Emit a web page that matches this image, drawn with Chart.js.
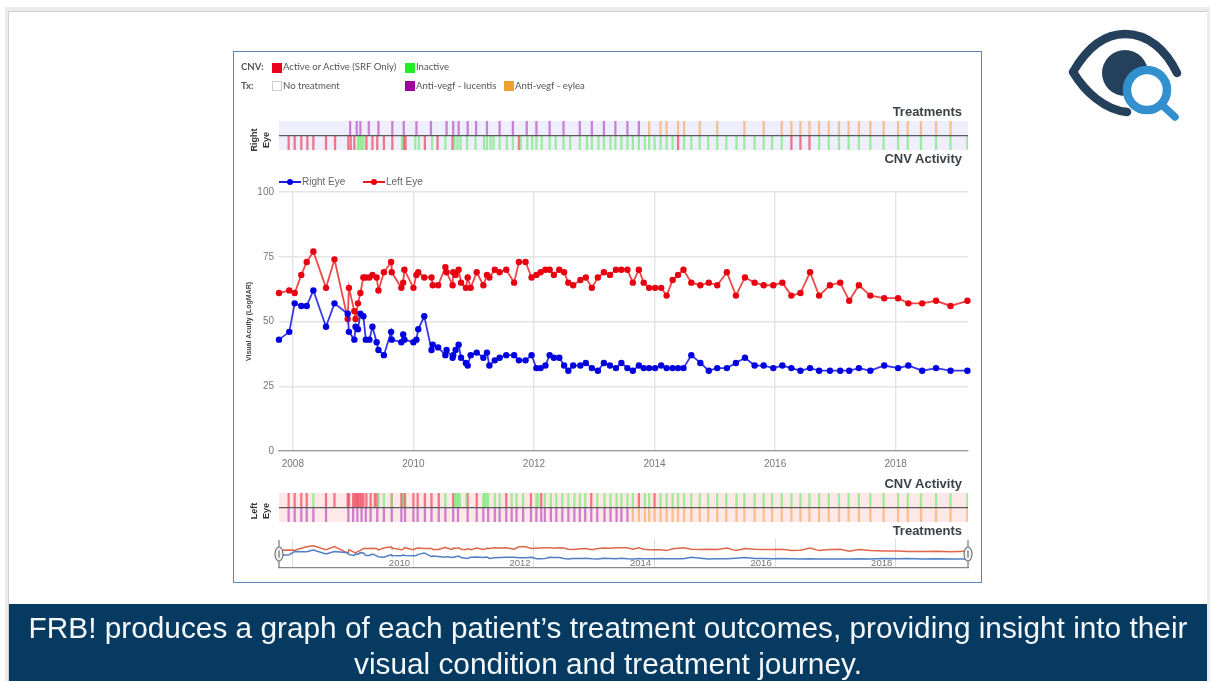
<!DOCTYPE html>
<html><head><meta charset="utf-8">
<script src="https://cdn.jsdelivr.net/npm/chart.js@4"></script>
<style>
html,body{margin:0;padding:0;background:#fff;width:1210px;height:681px;overflow:hidden}
#outer{position:absolute;left:5px;top:7px;width:1205px;height:674px;background:#ececec}
#slide{position:absolute;left:8px;top:11px;width:1199px;height:670px;background:#fff;border-top:1px solid #cfcfcf;border-left:1px solid #cfcfcf;box-sizing:border-box}
#banner{position:absolute;left:9px;top:604px;width:1198px;height:77px;background:#063a60;color:#f4f8fb;font:29.8px/36px "Liberation Sans",Arial,sans-serif;text-align:center;padding-top:6px;box-sizing:border-box}
#bannerText{filter:blur(.4px)}
#frame{position:absolute;left:233px;top:51px;width:749px;height:532px;border:1px solid #5f86ba;box-sizing:border-box;filter:blur(.45px)}
.a{position:absolute;white-space:nowrap}
canvas{position:absolute;display:block}
.leg{font:9.6px Lato,sans-serif;color:#555;line-height:12px}
.sw{position:absolute;width:10px;height:10px;box-sizing:border-box}
.hd{font:bold 13px "Liberation Sans",Arial,sans-serif;color:#3a4248;right:19px;line-height:14px}
.eye{font:bold 9px "Liberation Sans",Arial,sans-serif;color:#333;transform:rotate(-90deg);transform-origin:center;width:30px;text-align:center;line-height:12px}
.lg{font:10px "Liberation Sans",Arial,sans-serif;color:#666;line-height:12px}
#eyeicon{position:absolute;left:1060px;top:20px;filter:blur(.5px)}
</style></head><body>
<div id="outer"></div>
<div id="slide"></div>
<svg id="eyeicon" width="130" height="110" viewBox="1060 20 130 110">
<path d="M1127 112 C1105 110 1085 92 1073 72 C1088 46 1106 34 1125 34 C1148 34 1166 50 1177 73" fill="none" stroke="#24405a" stroke-width="8.5" stroke-linecap="round" stroke-linejoin="round"/>
<circle cx="1125" cy="73" r="23" fill="#24405a"/>
<circle cx="1147" cy="90" r="20" fill="#fff" stroke="#3390cf" stroke-width="8.5"/>
<line x1="1161" y1="104" x2="1175" y2="117" stroke="#3390cf" stroke-width="7.5" stroke-linecap="round"/>
</svg>
<div id="frame">
  <div class="a leg" style="left:7px;top:9px;font-weight:700">CNV:</div>
  <div class="a leg" style="left:7px;top:28px;font-weight:700">Tx:</div>
  <div class="sw" style="left:38px;top:11px;background:#e8001c"></div>
  <div class="a leg" style="left:49px;top:9px">Active or Active (SRF Only)</div>
  <div class="sw" style="left:171px;top:11px;background:#22ee22"></div>
  <div class="a leg" style="left:182px;top:9px">Inactive</div>
  <div class="sw" style="left:38px;top:29px;background:#fff;border:1px solid #ccc"></div>
  <div class="a leg" style="left:49px;top:28px">No treatment</div>
  <div class="sw" style="left:171px;top:29px;background:#a000a0"></div>
  <div class="a leg" style="left:182px;top:28px">Anti-vegf - lucentis</div>
  <div class="sw" style="left:270px;top:29px;background:#f0a030"></div>
  <div class="a leg" style="left:281px;top:28px">Anti-vegf - eylea</div>

  <div class="a hd" style="top:53px">Treatments</div>
  <div class="a hd" style="top:100px">CNV Activity</div>
  <div class="a hd" style="top:425px">CNV Activity</div>
  <div class="a hd" style="top:472px">Treatments</div>

  <div class="a eye" style="left:11px;top:76px">Right<br>Eye</div>
  <div class="a eye" style="left:11px;top:447px">Left<br>Eye</div>

  <svg class="a" style="left:45px;top:124px" width="24" height="12"><line x1="0" y1="6" x2="22" y2="6" stroke="#1a1ae0" stroke-width="2"/><circle cx="11" cy="6" r="3" fill="#0000e0"/></svg>
  <div class="a lg" style="left:68px;top:124px">Right Eye</div>
  <svg class="a" style="left:129px;top:124px" width="24" height="12"><line x1="0" y1="6" x2="22" y2="6" stroke="#ee1a1a" stroke-width="2"/><circle cx="11" cy="6" r="3" fill="#e80000"/></svg>
  <div class="a lg" style="left:152px;top:124px">Left Eye</div>

  <canvas id="topStrip" style="left:45px;top:69px"></canvas>
  <canvas id="main" style="left:0;top:120px"></canvas>
  <canvas id="botStrip" style="left:45px;top:441px"></canvas>
  <canvas id="nav" style="left:30px;top:480px"></canvas>
</div>
<div id="banner"><div id="bannerText">FRB! produces a graph of each patient’s treatment outcomes, providing insight into their<br>visual condition and treatment journey.</div></div>
<script>
const xMin=2007.77, xMax=2019.2;
const visitYears=[2007.77,2007.94,2008.03,2008.14,2008.23,2008.34,2008.55,2008.69,2008.91,2008.93,2009.02,2009.04,2009.08,2009.12,2009.17,2009.21,2009.27,2009.32,2009.39,2009.42,2009.51,2009.63,2009.64,2009.80,2009.83,2009.85,2010.00,2010.05,2010.08,2010.18,2010.30,2010.32,2010.41,2010.53,2010.55,2010.65,2010.66,2010.70,2010.75,2010.79,2010.87,2010.90,2010.95,2011.05,2011.16,2011.22,2011.26,2011.35,2011.43,2011.54,2011.67,2011.75,2011.86,2011.96,
2012.04,2012.11,2012.19,2012.26,2012.33,2012.42,2012.50,2012.57,2012.65,2012.77,2012.86,2012.96,2013.06,2013.16,2013.26,2013.36,2013.45,2013.55,2013.64,2013.74,2013.82,2013.91,2014.01,2014.11,2014.20,2014.30,2014.39,2014.48,2014.61,2014.76,2014.90,2015.04,2015.20,2015.35,2015.50,2015.66,2015.81,
2015.97,2016.12,2016.27,2016.42,2016.58,2016.73,2016.91,2017.08,2017.23,2017.39,2017.58,2017.81,2018.04,2018.21,2018.44,2018.67,2018.91,2019.19];
const rightEyeVA=[43,46,57,56,56,62,48,57,53,46,43,48,47,53,52,43,43,48,42,39,37,46,43,42,45,43,42,43,47,52,39,41,40,37,39,36,37,39,41,36,34,33,37,38,36,38,33,35,36,37,37,35,35,37,
32,32,33,37,36,36,33,31,33,33,34,32,31,34,33,32,34,32,31,33,32,32,32,33,32,32,32,32,37,34,31,32,32,34,36,33,33,
32,33,32,31,32,31,31,31,31,32,31,33,32,33,31,32,31,31];
const leftEyeVA=[61,62,61,68,73,77,63,74,51,63,54,51,57,61,67,67,67,68,67,62,69,73,69,63,65,70,63,68,69,67,67,64,64,71,69,64,69,68,70,65,63,67,63,69,64,68,67,70,69,70,65,73,73,67,
68,69,70,70,68,70,69,65,64,66,67,63,67,69,68,70,70,70,65,70,65,63,63,63,60,66,68,70,65,64,65,64,69,60,67,65,64,
64,65,60,61,69,60,64,65,58,64,60,59,59,57,57,58,56,58];

const rightLucentis=[2008.95,2009.06,2009.12,2009.26,2009.42,2009.65,2009.84,2010.05,2010.29,2010.55,2010.66,2010.75,2010.90,2011.04,2011.22,2011.43,2011.65,2011.88,2012.04,2012.26,2012.49,2012.76,2012.96,2013.16,2013.35,2013.55,2013.74];
const rightEylea=[2013.91,2014.10,2014.20,2014.39,2014.49,2014.75,2015.04,2015.49,2015.81,2016.11,2016.27,2016.42,2016.57,2016.73,2016.89,2017.06,2017.22,2017.39,2017.58,2017.80,2018.04,2018.20,2018.42,2018.67,2018.91];
const rightActive=[2007.93,2008.03,2008.14,2008.24,2008.34,2008.55,2008.70,2008.92,2008.96,2009.02,2009.22,2009.32,2009.40,2009.51,2009.65,2009.84,2009.87,2010.19,2010.40,2010.65,2011.75,2014.39,2016.27,2016.42,2016.57];
const rightInactive=[2009.08,2009.11,2009.14,2009.17,2009.81,2010.03,2010.09,2010.31,2010.53,2010.68,2010.73,2010.78,2010.89,2011.03,2011.17,2011.22,2011.28,2011.33,2011.43,2011.55,2011.65,2011.78,2011.89,2011.97,2012.04,2012.13,2012.26,2012.36,2012.49,2012.60,2012.76,2012.88,2012.96,2013.07,2013.16,2013.27,2013.35,2013.45,2013.55,2013.64,2013.74,2013.84,2013.91,2014.00,2014.10,2014.20,2014.30,2014.49,2014.61,2014.75,2014.89,2015.04,2015.19,2015.36,2015.49,2015.66,2015.81,2015.95,2016.11,2016.73,2016.89,2017.06,2017.22,2017.39,2017.58,2017.80,2018.04,2018.20,2018.42,2018.67,2018.91,2019.19];

const leftActive=[2007.93,2008.03,2008.14,2008.23,2008.55,2008.69,2008.91,2008.93,2009.00,2009.03,2009.06,2009.08,2009.11,2009.14,2009.17,2009.22,2009.29,2009.36,2009.40,2009.64,2009.80,2009.83,2009.86,2010.00,2010.07,2010.19,2010.30,2010.42,2010.66,2010.90,2011.05,2011.54,2011.95,2012.12,2012.95,2013.74,2014.00];
const leftInactive=[2008.34,2009.42,2009.51,2009.64,2009.83,2010.53,2010.69,2010.71,2010.74,2010.77,2010.88,2011.16,2011.18,2011.21,2011.24,2011.35,2011.43,2011.63,2011.71,2011.82,2012.04,2012.07,2012.18,2012.28,2012.37,2012.47,2012.57,2012.67,2012.76,2012.85,2013.05,2013.17,2013.27,2013.37,2013.45,2013.55,2013.64,2013.84,2013.91,2014.10,2014.20,2014.30,2014.39,2014.49,2014.61,2014.75,2014.89,2015.04,2015.19,2015.36,2015.49,2015.66,2015.81,2015.95,2016.11,2016.27,2016.42,2016.57,2016.73,2016.89,2017.06,2017.22,2017.39,2017.58,2017.80,2018.04,2018.20,2018.42,2018.67,2018.91,2019.19];
const leftLucentis=[2007.93,2008.03,2008.14,2008.23,2008.34,2008.55,2008.92,2009.00,2009.07,2009.14,2009.21,2009.29,2009.40,2009.51,2009.64,2009.80,2009.86,2010.00,2010.07,2010.19,2010.30,2010.42,2010.53,2010.66,2010.74,2010.90,2011.05,2011.16,2011.24,2011.35,2011.43,2011.54,2011.63,2011.71,2011.82,2011.95,2012.04,2012.12,2012.18,2012.28,2012.37,2012.47,2012.57,2012.67,2012.76,2012.85,2012.95,2013.05,2013.17,2013.27,2013.37,2013.45,2013.55];
const leftEylea=[2013.64,2013.74,2013.84,2013.91,2014.00,2014.10,2014.20,2014.30,2014.39,2014.49,2014.61,2014.75,2014.89,2015.04,2015.19,2015.36,2015.49,2015.66,2015.81,2015.95,2016.11,2016.27,2016.42,2016.57,2016.73,2016.89,2017.06,2017.22,2017.39,2017.58,2017.80,2018.04,2018.20,2018.42,2018.67,2018.91,2019.19];

const COL={lucentis:'rgba(176,60,190,.62)',eylea:'rgba(246,176,110,.75)',active:'rgba(235,70,90,.72)',inactive:'rgba(120,235,120,.72)'};
Chart.defaults.animation=false;
Chart.defaults.responsive=false;

const bandBg={id:'bandBg',beforeDraw(c,_,o){const a=c.chartArea;c.ctx.save();c.ctx.fillStyle=o.color;c.ctx.fillRect(a.left,a.top,a.width,a.height);c.ctx.restore();}};
function ticks(arr,lo,hi,color){return {data:arr.map(x=>({x,y:[lo,hi]})),backgroundColor:color,barThickness:1.6,grouped:false};}
function strip(id,height,sets,bg){
  const el=document.getElementById(id);el.width=689;el.height=height;
  new Chart(el,{type:'bar',plugins:[bandBg],data:{datasets:sets},options:{
    layout:{padding:0},
    plugins:{legend:{display:false},tooltip:{enabled:false},bandBg:{color:bg}},
    scales:{
      x:{type:'linear',min:xMin,max:xMax,offset:false,display:false},
      y:{min:-1,max:1,afterFit:s=>{s.width=0},border:{display:false},ticks:{display:false,stepSize:1},
         grid:{z:1,drawTicks:false,lineWidth:1.2,color:c=>c.tick.value===0?'#5a5a5a':'rgba(0,0,0,0)'}}
    }}});
}
strip('topStrip',29,[ticks(rightLucentis,0,1,COL.lucentis),ticks(rightEylea,0,1,COL.eylea),ticks(rightInactive,-1,0,COL.inactive),ticks(rightActive,-1,0,COL.active)],'#eeeefc');
strip('botStrip',29,[ticks(leftInactive,0,1,COL.inactive),ticks(leftActive,0,1,COL.active),ticks(leftLucentis,-1,0,COL.lucentis),ticks(leftEylea,-1,0,COL.eylea)],'#ffe8e8');

const pts=a=>a.map((y,i)=>({x:visitYears[i],y}));
const mainEl=document.getElementById('main');mainEl.width=747;mainEl.height=305;
new Chart(mainEl,{type:'line',data:{datasets:[
  {label:'Right Eye',data:pts(rightEyeVA),borderColor:'rgba(20,20,225,.85)',backgroundColor:'#0000e0',borderWidth:1.8,pointRadius:3.2,pointBorderWidth:0,tension:0},
  {label:'Left Eye',data:pts(leftEyeVA),borderColor:'rgba(235,25,25,.8)',backgroundColor:'#e80010',borderWidth:1.8,pointRadius:3.2,pointBorderWidth:0,tension:0}
]},options:{
  clip:false,
  layout:{padding:{top:20,right:13,left:0,bottom:0}},
  plugins:{legend:{display:false},tooltip:{enabled:false}},
  scales:{
    x:{type:'linear',min:xMin,max:xMax,afterFit:s=>{s.height=26},
       border:{color:'#999',width:1.2},grid:{color:'#e4e4e4',lineWidth:1.4,drawTicks:false},
       ticks:{stepSize:2,includeBounds:false,autoSkip:false,maxRotation:0,padding:7,color:'#777',font:{size:10,family:'"Liberation Sans",Arial,sans-serif'},callback:v=>String(v)}},
    y:{min:0,max:100,afterFit:s=>{s.width=45},
       border:{display:false},grid:{color:'#e4e4e4',lineWidth:1.4,drawTicks:false},
       title:{display:true,text:'Visual Acuity (LogMAR)',color:'#444',font:{size:7,family:'"Liberation Sans",Arial,sans-serif',weight:'bold'},padding:{top:11,bottom:0}},
       ticks:{stepSize:25,padding:5,color:'#777',font:{size:10,family:'"Liberation Sans",Arial,sans-serif'}}}
  }}});

const navHandles={id:'navHandles',afterDraw(c){const x=c.scales.x,a=c.chartArea,g=c.ctx;g.save();
  [x.getPixelForValue(xMin),x.getPixelForValue(xMax)].forEach(p=>{
    g.strokeStyle='#777';g.lineWidth=1.2;g.beginPath();g.moveTo(p,a.top+1);g.lineTo(p,a.bottom);g.stroke();
    g.fillStyle='#f2f2f2';g.beginPath();g.ellipse(p,a.top+15,4,7,0,0,Math.PI*2);g.fill();g.stroke();
    g.strokeStyle='#555';g.lineWidth=1;g.beginPath();g.moveTo(p,a.top+11.5);g.lineTo(p,a.top+18.5);g.stroke();});
  g.restore();}};
const navEl=document.getElementById('nav');navEl.width=715;navEl.height=48;
new Chart(navEl,{type:'line',plugins:[navHandles],data:{datasets:[
  {data:pts(rightEyeVA),borderColor:'#4f7fc4',borderWidth:1.5,pointRadius:0,tension:0},
  {data:pts(leftEyeVA),borderColor:'#e0664a',borderWidth:1.5,pointRadius:0,tension:0}
]},options:{
  layout:{padding:{top:7,left:15,right:11,bottom:0}},
  plugins:{legend:{display:false},tooltip:{enabled:false}},
  scales:{
    x:{type:'linear',min:xMin,max:xMax,afterFit:s=>{s.height=12},border:{color:'#888',width:1.2},
       grid:{color:'#dcdcdc',lineWidth:1,drawTicks:false},
       ticks:{stepSize:2,includeBounds:false,autoSkip:false,maxRotation:0,mirror:true,padding:-1,labelOffset:-14,color:'#777',font:{size:9.5,family:'"Liberation Sans",Arial,sans-serif'},
              callback:v=>v===2008?'':String(v)}},
    y:{min:0,max:100,display:false,afterFit:s=>{s.width=0}}
  }}});
</script>
</body></html>
